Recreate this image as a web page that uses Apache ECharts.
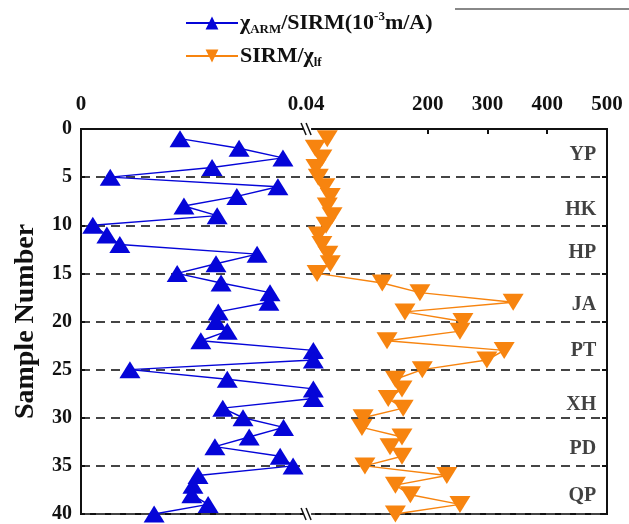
<!DOCTYPE html>
<html><head><meta charset="utf-8">
<script src="https://cdn.jsdelivr.net/npm/echarts@6/dist/echarts.min.js"></script>
<style>html,body{margin:0;padding:0;background:#fff}#c{width:629px;height:524px}</style>
</head><body><div id="c"></div>
<script>
const sampleNumbers = [1,2,3,4,5,6,7,8,9,10,11,12,13,14,15,16,17,18,19,20,21,22,23,24,25,26,27,28,29,30,31,32,33,34,35,36,37,38,39,40];
const armSirm = [0.0176,0.0281,0.0359,0.0233,0.0052,0.0350,0.0277,0.0183,0.0242,0.0021,0.0046,0.0069,0.0313,0.0240,0.0171,0.0249,0.0336,0.0334,0.0244,0.0240,0.0260,0.0213,0.0413,0.0413,0.0087,0.0260,0.0413,0.0413,0.0252,0.0288,0.0360,0.0299,0.0238,0.0354,0.0377,0.0208,0.0199,0.0197,0.0226,0.0130];
const sirmChi = [32,12,23,13,17,28,37,32,40,30,17,23,33,37,15,124,187,343,162,259,254,132,328,299,191,146,157,134,159,92,90,157,137,157,95,232,146,171,254,146];
const zoneNames = ['YP','HK','HP','JA','PT','XH','PD','QP'];
const zoneCenters = [2.7,8.4,12.9,18.3,23.0,28.7,33.2,38.1];
const yTicks = [0,5,10,15,20,25,30,35,40];
const blueTickLabels = [0,0.04];
const orangeTickLabels = [200,300,400,500];
const orangeTicks = [200,300,400];

const FONT = '"Liberation Serif","Times New Roman",serif';
const BLUE = '#0505d8';
const ORANGE = '#f7840f';
const chart = echarts.init(document.getElementById('c'), null, {renderer:'canvas'});

const rich = {
  a:{fontFamily:FONT,fontWeight:'bold',fontSize:22,color:'#111',lineHeight:26,verticalAlign:'middle'},
  s:{fontFamily:FONT,fontWeight:'bold',fontSize:13,color:'#111',lineHeight:26,verticalAlign:'bottom',padding:[8,0,0,0]},
  p:{fontFamily:FONT,fontWeight:'bold',fontSize:13,color:'#111',lineHeight:26,verticalAlign:'top',padding:[0,0,8,0]}
};

const option = {
  animation:false,
  backgroundColor:'#fff',
  legend:{
    orient:'vertical', left:180, top:5, itemGap:9,
    itemWidth:52, itemHeight:16,
    data:['blue','orange'],
    formatter: n => n==='blue' ? '{a|χ}{s|ARM}{a|/SIRM(10}{p|-3}{a|m/A)}' : '{a|SIRM/χ}{s|lf}',
    textStyle:{rich:rich, padding:[0,0,0,-3]}
  },
  grid:{left:81, right:22, top:129, bottom:9, show:true, borderColor:'#111', borderWidth:2, backgroundColor:'transparent'},
  xAxis:[
    {type:'value', position:'top', min:0, max:0.0935,
     axisLine:{show:true, onZero:false, lineStyle:{color:'#111',width:2}},
     axisTick:{show:false},
     splitLine:{show:false},
     axisLabel:{customValues:blueTickLabels, formatter:v=> v===0?'0':v.toFixed(2), fontFamily:FONT, fontWeight:'bold', fontSize:21, color:'#111', margin:14}
    },
    {type:'value', position:'top', min:-380, max:500,
     axisLine:{show:false, onZero:false},
     axisTick:{show:true, inside:true, length:5, customValues:orangeTicks, lineStyle:{color:'#111',width:2}},
     splitLine:{show:false},
     axisLabel:{customValues:orangeTickLabels, fontFamily:FONT, fontWeight:'bold', fontSize:21, color:'#111', margin:14}
    }
  ],
  yAxis:[
    {type:'value', inverse:true, min:0, max:40, interval:5, position:'left',
     name:'Sample Number', nameLocation:'middle', nameGap:41, nameRotate:90,
     nameTextStyle:{fontFamily:FONT, fontWeight:'bold', fontSize:28, color:'#111'},
     axisLine:{show:true, onZero:false, lineStyle:{color:'#111',width:2}},
     axisTick:{show:true, inside:true, length:4, lineStyle:{color:'#111',width:2}},
     axisLabel:{fontFamily:FONT, fontWeight:'bold', fontSize:20, color:'#111', margin:9, customValues:yTicks},
     splitLine:{show:true, lineStyle:{color:'#444', width:2, type:[9,6]}}
    },
    {type:'value', inverse:true, min:0, max:40, interval:5, position:'right',
     axisLine:{show:true, onZero:false, lineStyle:{color:'#111',width:2}},
     axisTick:{show:true, inside:true, length:5, lineStyle:{color:'#111',width:2}},
     axisLabel:{show:false}, splitLine:{show:false}
    }
  ],
  series:[
    {name:'blue', type:'line', xAxisIndex:0, yAxisIndex:0,
     data: sampleNumbers.map((n,i)=>[armSirm[i], n]),
     symbol:'triangle', symbolSize:[21,17], clip:false,
     lineStyle:{color:BLUE, width:1.5}, itemStyle:{color:BLUE}, z:3},
    {name:'orange', type:'line', xAxisIndex:1, yAxisIndex:0,
     data: sampleNumbers.map((n,i)=>[sirmChi[i], n]),
     symbol:'triangle', symbolRotate:180, symbolSize:[21,17], clip:false,
     lineStyle:{color:ORANGE, width:1.5}, itemStyle:{color:ORANGE}, z:3},
    {name:'zones', type:'scatter', xAxisIndex:1, yAxisIndex:0,
     data: zoneNames.map((z,i)=>[482, zoneCenters[i], z]),
     symbolSize:0, silent:true,
     label:{show:true, position:'left', distance:0, formatter:p=>p.data[2], fontFamily:FONT, fontWeight:'bold', fontSize:20, color:'#111'}}
  ]
};
chart.setOption(option);

// axis break marks and top-right frame fragment
const bx = (chart.convertToPixel({xAxisIndex:0}, 0.04) + chart.convertToPixel({xAxisIndex:1}, 0)) / 2;
const yTop = chart.convertToPixel({yAxisIndex:0}, 0);
const yBot = chart.convertToPixel({yAxisIndex:0}, 40);
function brk(y){
  return [
    {type:'rect', shape:{x:bx-4, y:y-3, width:8, height:6}, style:{fill:'#fff'}, z:100},
    {type:'line', shape:{x1:bx-6, y1:y-6, x2:bx-1, y2:y+6}, style:{stroke:'#111', lineWidth:1.5}, z:101},
    {type:'line', shape:{x1:bx-1, y1:y-6, x2:bx+4, y2:y+6}, style:{stroke:'#111', lineWidth:1.5}, z:101}
  ];
}
chart.setOption({graphic:[].concat(brk(yTop), brk(yBot), [
  {type:'line', shape:{x1:455, y1:9, x2:629, y2:9}, style:{stroke:'#888', lineWidth:2}, z:50}
])});
</script></body></html>
